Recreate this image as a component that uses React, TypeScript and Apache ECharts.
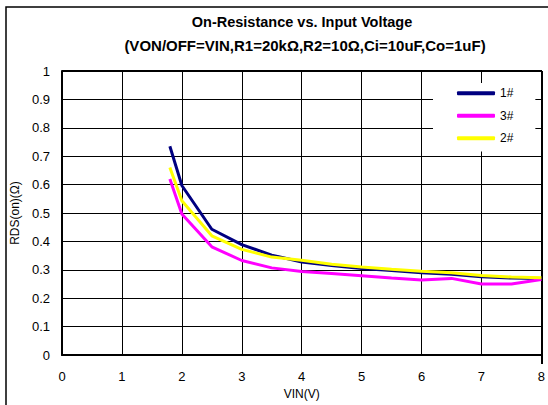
import React, { useEffect, useRef } from "react";
import * as echarts from "echarts";

const titleLine1 = "On-Resistance vs. Input Voltage";
const titleLine2 = "(VON/OFF=VIN,R1=20kΩ,R2=10Ω,Ci=10uF,Co=1uF)";
const xName = "VIN(V)";
const yName = "RDS(on)(Ω)";

const vin = [1.8, 2, 2.5, 3, 3.5, 4, 4.5, 5, 5.5, 6, 6.5, 7, 7.5, 8];
const s1 = [0.735, 0.597, 0.443, 0.389, 0.352, 0.328, 0.315, 0.305, 0.298, 0.29, 0.285, 0.276, 0.271, 0.27];
const s3 = [0.62, 0.497, 0.381, 0.333, 0.307, 0.294, 0.287, 0.279, 0.271, 0.264, 0.27, 0.25, 0.25, 0.266];
const s2 = [0.66, 0.543, 0.42, 0.372, 0.345, 0.334, 0.32, 0.31, 0.302, 0.295, 0.29, 0.28, 0.275, 0.272];

const seriesNames = ["1#", "3#", "2#"];
const seriesColors = ["#000080", "#FF00FF", "#FFFF00"];
const seriesValues = [s1, s3, s2];

const FONT = "Liberation Sans, Arial, sans-serif";

export default function App() {
  const ref = useRef<HTMLDivElement>(null);
  useEffect(() => {
    if (!ref.current) return;
    const chart = echarts.init(ref.current, null, { renderer: "svg" });
    chart.setOption({
      animation: false,
      backgroundColor: "#fff",
      textStyle: { fontFamily: FONT },
      title: [
        {
          text: titleLine1,
          left: 302,
          textAlign: "center",
          top: 14,
          padding: 0,
          textStyle: { fontSize: 14.5, fontWeight: "bold", color: "#000", fontFamily: FONT },
        },
        {
          text: titleLine2,
          left: 305,
          textAlign: "center",
          top: 38,
          padding: 0,
          textStyle: { fontSize: 15, fontWeight: "bold", color: "#000", fontFamily: FONT },
        },
      ],
      grid: { left: 62, right: 6, top: 71, bottom: 41, containLabel: false, show: false },
      legend: {
        orient: "vertical",
        left: 433,
        top: 83,
        padding: [4, 22, 7, 24],
        backgroundColor: "#fff",
        icon: "roundRect",
        itemWidth: 38,
        itemHeight: 4,
        itemGap: 10,
        textStyle: { fontSize: 12, color: "#000", lineHeight: 12.5, fontFamily: FONT },
        data: seriesNames,
      },
      xAxis: {
        type: "value",
        min: 0,
        max: 8,
        interval: 1,
        name: xName,
        nameLocation: "middle",
        nameGap: 30,
        nameTextStyle: { fontSize: 12, color: "#000", fontFamily: FONT },
        axisLine: { show: true, onZero: false, lineStyle: { color: "#000", width: 2 } },
        axisTick: { show: false },
        axisLabel: { fontSize: 13, color: "#000", margin: 15, fontFamily: FONT },
        splitLine: { show: true, lineStyle: { color: "#000", width: 1 } },
      },
      yAxis: {
        type: "value",
        min: 0,
        max: 1,
        interval: 0.1,
        name: yName,
        nameLocation: "middle",
        nameGap: 33,
        nameTextStyle: { fontSize: 12, color: "#000", fontFamily: FONT },
        axisLine: { show: true, onZero: false, lineStyle: { color: "#000", width: 2 } },
        axisTick: { show: false },
        axisLabel: { fontSize: 13, color: "#000", margin: 12, fontFamily: FONT },
        splitLine: { show: true, lineStyle: { color: "#000", width: 1 } },
      },
      graphic: [
        {
          type: "rect",
          shape: { x: 6, y: 7, width: 700, height: 600 },
          style: { fill: "none", stroke: "#000", lineWidth: 1.5 },
          silent: true,
          z: 100,
        },
        {
          type: "line",
          shape: { x1: 62, y1: 71, x2: 542, y2: 71 },
          style: { stroke: "#000", lineWidth: 2 },
          silent: true,
          z: 1,
        },
        {
          type: "line",
          shape: { x1: 542, y1: 71, x2: 542, y2: 364 },
          style: { stroke: "#000", lineWidth: 2 },
          silent: true,
          z: 1,
        },
      ],
      series: seriesNames.map((name, i) => ({
        name,
        type: "line",
        data: vin.map((x, j) => [x, seriesValues[i][j]]),
        showSymbol: false,
        symbol: "none",
        lineStyle: { color: seriesColors[i], width: 3 },
        itemStyle: { color: seriesColors[i] },
        z: 2 + i,
      })),
    });
    return () => chart.dispose();
  }, []);
  return (
    <div
      ref={ref}
      style={{ position: "fixed", left: 0, top: 0, width: 548, height: 405, background: "#fff" }}
    />
  );
}
